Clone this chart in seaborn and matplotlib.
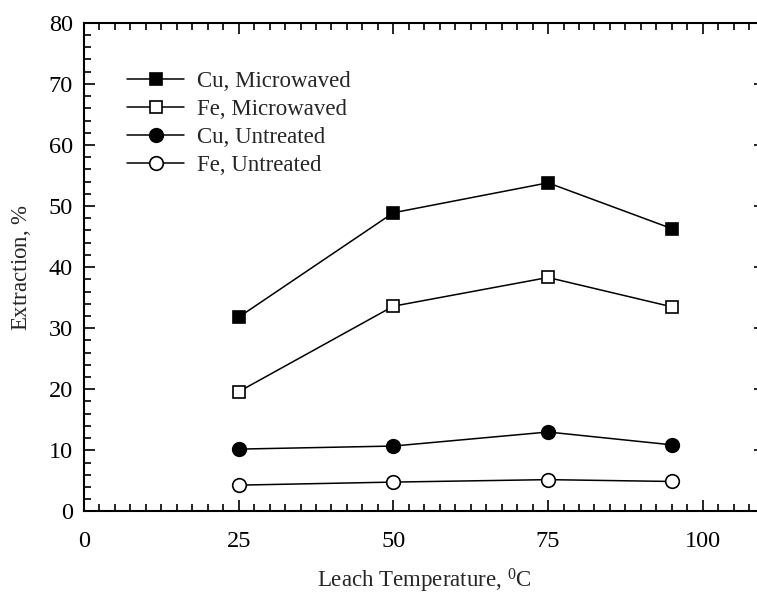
import matplotlib
matplotlib.use("Agg")
import matplotlib.pyplot as plt
from matplotlib.ticker import MultipleLocator
import seaborn as sns
import pandas as pd

temperature = [25, 50, 75, 95]
cu_microwaved = [31.8, 48.9, 53.8, 46.3]
fe_microwaved = [19.6, 33.6, 38.3, 33.5]
cu_untreated = [10.2, 10.7, 13.0, 10.9]
fe_untreated = [4.3, 4.8, 5.2, 4.9]

series_names = ["Cu, Microwaved", "Fe, Microwaved", "Cu, Untreated", "Fe, Untreated"]
series_values = [cu_microwaved, fe_microwaved, cu_untreated, fe_untreated]

rows = []
for name, vals in zip(series_names, series_values):
    for t, v in zip(temperature, vals):
        rows.append({"Temperature": t, "Extraction": v, "Series": name})
df = pd.DataFrame(rows)

sns.set_theme(style="ticks")
plt.rcParams["font.family"] = ["Liberation Serif", "DejaVu Serif"]
plt.rcParams["mathtext.fontset"] = "custom"
plt.rcParams["mathtext.rm"] = "Liberation Serif"
plt.rcParams["mathtext.it"] = "Liberation Serif:italic"

fig = plt.figure(figsize=(7.57, 5.96), dpi=100)
W, H = 757, 596
ax = fig.add_axes([84 / W, 1 - 511.4 / H, 680.6 / W, 488.6 / H])

styles = {
    "Cu, Microwaved": dict(marker="s", mfc="black", ms=8.8),
    "Fe, Microwaved": dict(marker="s", mfc="white", ms=8.8),
    "Cu, Untreated": dict(marker="o", mfc="black", ms=9.8),
    "Fe, Untreated": dict(marker="o", mfc="white", ms=9.8),
}

for name in series_names:
    sub = df[df["Series"] == name]
    st = styles[name]
    sns.lineplot(data=sub, x="Temperature", y="Extraction", ax=ax,
                 color="black", linewidth=1.1, marker=st["marker"],
                 markersize=st["ms"], markerfacecolor=st["mfc"],
                 markeredgecolor="black", markeredgewidth=1.2,
                 label=name, legend=False)

ax.set_xlim(0, 110)
ax.set_ylim(0, 80)
ax.xaxis.set_major_locator(MultipleLocator(25))
ax.xaxis.set_minor_locator(MultipleLocator(2.5))
ax.yaxis.set_major_locator(MultipleLocator(10))
ax.yaxis.set_minor_locator(MultipleLocator(2))
ax.tick_params(which="both", direction="in", top=True, right=True,
               colors="black", labelsize=17.5)
ax.tick_params(which="major", length=8, width=1.2)
ax.tick_params(which="minor", length=5, width=1.2)
ax.tick_params(axis="x", which="major", pad=14)
ax.tick_params(axis="y", which="major", pad=8)
for sp in ax.spines.values():
    sp.set_linewidth(1.5)
    sp.set_color("black")
    sp.set_visible(True)

ax.set_xlabel("Leach Temperature, $^0$C", fontsize=16.5)
ax.set_ylabel("Extraction, $\\mathit{\\%}$", fontsize=16.5)
ax.xaxis.set_label_coords(0.5, -0.113)
ax.yaxis.set_label_coords(-0.075, 0.5)

handles, labels = ax.get_legend_handles_labels()
leg = ax.legend(handles, labels, loc="upper left", bbox_to_anchor=(0.05, 0.92),
                frameon=False, fontsize=16.5, handlelength=2.5, handletextpad=0.55,
                labelspacing=0.3, borderaxespad=0)

fig.savefig("out.png", dpi=100)
